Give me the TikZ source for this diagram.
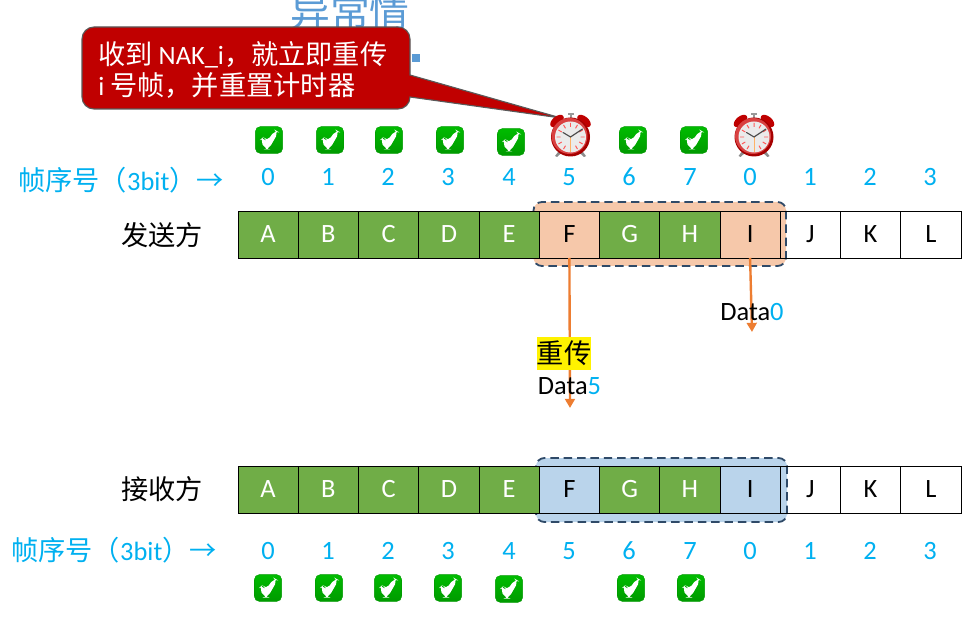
\documentclass[tikz,border=0pt]{standalone}
\usepackage{fontspec}
\usepackage{xcolor}
\usetikzlibrary{arrows.meta}
\setmainfont{Carlito}
\newfontfamily\cjk[Scale=1.03]{Noto Sans CJK SC}
\definecolor{cellgreen}{HTML}{70AD47}
\definecolor{cellpeach}{HTML}{F6C8AA}
\definecolor{cellblue}{HTML}{BAD4EB}
\definecolor{numblue}{HTML}{00B0F0}
\definecolor{winline}{HTML}{2F4A68}
\definecolor{arroworange}{HTML}{ED7D31}
\definecolor{calloutred}{HTML}{C00000}
\definecolor{titleblue}{HTML}{5B9BD5}
\definecolor{okgreen}{HTML}{00B000}
\definecolor{okdark}{HTML}{009A00}

\begin{document}
\begin{tikzpicture}[x=0.25mm, y=-0.25mm,
  every node/.style={font=\fontsize{18.8}{23}\selectfont},
  cell/.style={draw, line width=0.6pt, minimum width=15.06mm, minimum height=11.75mm, inner sep=0pt, outer sep=0pt},
  good/.style={cell, fill=cellgreen, text=white},
  sendwait/.style={cell, fill=cellpeach},
  recvwait/.style={cell, fill=cellblue},
  seqnum/.style={text=numblue, inner sep=0pt},
  seqlabel/.style={text=numblue, anchor=west, inner sep=0pt},
  party/.style={anchor=center, inner sep=0pt},
  window/.style={draw=winline, line width=1.3pt, dash pattern=on 6pt off 3.5pt, rounded corners=6pt},
  sendarrow/.style={draw=arroworange, line width=1.7pt, -{Triangle[length=6.5pt,width=7pt]}},
  okbox/.style={draw=okdark, line width=0.3pt, top color=okgreen!85!green, bottom color=okdark, rounded corners=3.5pt, minimum width=6.8mm, minimum height=6.7mm, inner sep=0pt,
    path picture={\fill[white, shift={(path picture bounding box.center)}] (-9,0)--(-5.5,-3)--(-2,1.5)--(6,-10)--(9.5,-8)--(-0.5,9.5)--(-3.5,9.5)--cycle;}},
  alarmclock/.pic={
    \fill[black!45] (-11,13)--(-15.5,19)--(-13.5,20)--(-8,15)--cycle (11,13)--(15.5,19)--(13.5,20)--(8,15)--cycle;
    \fill[black!40] (-3,-24)rectangle(3,-21.5); \fill[black!40] (-1,-22)rectangle(1,-17);
    \fill[red!75!black, rotate around={40:(-13.5,-16)}] (-13.5,-16) ellipse [x radius=8, y radius=4.5];
    \fill[red!75!black, rotate around={-40:(13.5,-16)}] (13.5,-16) ellipse [x radius=8, y radius=4.5];
    \fill[red!65!black] (0,0) circle (19.5);
    \fill[red!70!white!85!black] (-1,-1) circle (18);
    \fill[black!8] (0,0) circle (15.5);
    \draw[red!65!white, line width=0.7pt] (0,-14)--(0,-10) (7,-12.1)--(5,-8.7) (12.1,-7)--(8.7,-5) (14,0)--(10,0) (12.1,7)--(8.7,5) (7,12.1)--(5,8.7) (-7,12.1)--(-5,8.7) (-12.1,7)--(-8.7,5) (-14,0)--(-10,0) (-12.1,-7)--(-8.7,-5) (-7,-12.1)--(-5,-8.7);
    \draw[orange!60!white, line width=0.4pt] (0,0)--(0,15);
    \draw[black!70, line width=0.8pt, line cap=round] (-7.5,-4.5)--(0,0)--(12,-8);
  }]
\clip (0,0) rectangle (976,618);

% title behind the callout
\node[text=titleblue, font=\fontsize{27.5}{30}\cjk, inner sep=0pt] (title) at (350,11) {异常情};
\node[fill=titleblue, minimum width=2mm, minimum height=2mm, inner sep=0pt] (titlerest) at (416,58) {};

% callout
\coordinate (alarmtip) at (561,118);
\draw[fill=calloutred, draw=black!65, line width=0.8pt, rounded corners=8.5pt] (82,27) -- (410,27) [sharp corners] -- (410,75) -- (alarmtip) -- (410,97) [rounded corners=8.5pt] -- (410,109) -- (82,109) -- cycle;
\node[text=white, anchor=west, align=left, inner sep=0pt] (calltext) at (98,70) {{\cjk 收到} NAK\_i{\cjk ，就立即重传}\\[-1.5pt]i {\cjk 号帧，并重置计时器}};

% sender side, top row
\node[okbox] (sok0) at (269,140) {}; \node[okbox] (sok1) at (330,140) {}; \node[okbox] (sok2) at (389,140) {}; \node[okbox] (sok3) at (450,140) {}; \node[okbox] (sok4) at (511,142) {};
\pic (sclock5) at (570.5,137) {alarmclock};
\node[okbox] (sok6) at (633,140) {}; \node[okbox] (sok7) at (694,140) {};
\pic (sclock0) at (754,137) {alarmclock};

\node[seqlabel] (slabel) at (18,180) {{\cjk 帧序号（}3bit{\cjk ）→}};
\node[seqnum] (sn0) at (268,177) {0}; \node[seqnum] (sn1) at (328,177) {1}; \node[seqnum] (sn2) at (388,177) {2}; \node[seqnum] (sn3) at (448,177) {3};
\node[seqnum] (sn4) at (509,177) {4}; \node[seqnum] (sn5) at (569,177) {5}; \node[seqnum] (sn6) at (629,177) {6}; \node[seqnum] (sn7) at (690,177) {7};
\node[seqnum] (sn8) at (750,177) {0}; \node[seqnum] (sn9) at (810,177) {1}; \node[seqnum] (sn10) at (870,177) {2}; \node[seqnum] (sn11) at (930,177) {3};

\node[party, font=\fontsize{18.8}{23}\cjk] (sender) at (162,235) {发送方};
\draw[window, fill=cellpeach] (533.5,202) rectangle (786,266);
\node[good] (sa) at (268.1,234.5) {A}; \node[good] (sb) at (328.4,234.5) {B}; \node[good] (sc) at (388.6,234.5) {C}; \node[good] (sd) at (448.9,234.5) {D}; \node[good] (se) at (509.1,234.5) {E};
\node[sendwait] (sf) at (569.4,234.5) {F}; \node[good] (sg) at (629.6,234.5) {G}; \node[good] (sh) at (689.9,234.5) {H}; \node[sendwait] (si) at (750.1,234.5) {I};
\node[cell] (sj) at (810.4,234.5) {J}; \node[cell] (sk) at (870.6,234.5) {K}; \node[cell] (sl) at (930.9,234.5) {L};

% frames on the way
\coordinate (f5end) at (570,408);
\coordinate (f0end) at (752,332);
\draw[sendarrow] (sf.south) -- (f5end);
\draw[sendarrow] (si.south) -- (f0end);
\node[fill=yellow, minimum width=13.5mm, minimum height=8.25mm, inner sep=0pt, font=\fontsize{18.8}{23}\cjk] (resend) at (564,353.5) {重传};
\node[inner sep=0pt] (data5) at (569.5,386) {Data\textcolor{numblue}{5}};
\node[inner sep=0pt] (data0) at (752,312) {Data\textcolor{numblue}{0}};

% receiver side, bottom row
\node[party, font=\fontsize{18.8}{23}\cjk] (receiver) at (162,489) {接收方};
\draw[window, fill=cellblue] (536,458) rectangle (787,522);
\node[good] (ra) at (268.1,489.5) {A}; \node[good] (rb) at (328.4,489.5) {B}; \node[good] (rc) at (388.6,489.5) {C}; \node[good] (rd) at (448.9,489.5) {D}; \node[good] (re) at (509.1,489.5) {E};
\node[recvwait] (rf) at (569.4,489.5) {F}; \node[good] (rg) at (629.6,489.5) {G}; \node[good] (rh) at (689.9,489.5) {H}; \node[recvwait] (ri) at (750.1,489.5) {I};
\node[cell] (rj) at (810.4,489.5) {J}; \node[cell] (rk) at (870.6,489.5) {K}; \node[cell] (rl) at (930.9,489.5) {L};

\node[seqlabel] (rlabel) at (11,550) {{\cjk 帧序号（}3bit{\cjk ）→}};
\node[seqnum] (rn0) at (268,551) {0}; \node[seqnum] (rn1) at (328,551) {1}; \node[seqnum] (rn2) at (388,551) {2}; \node[seqnum] (rn3) at (448,551) {3};
\node[seqnum] (rn4) at (509,551) {4}; \node[seqnum] (rn5) at (569,551) {5}; \node[seqnum] (rn6) at (629,551) {6}; \node[seqnum] (rn7) at (690,551) {7};
\node[seqnum] (rn8) at (750,551) {0}; \node[seqnum] (rn9) at (810,551) {1}; \node[seqnum] (rn10) at (870,551) {2}; \node[seqnum] (rn11) at (930,551) {3};

\node[okbox] (rok0) at (268,588) {}; \node[okbox] (rok1) at (329,588) {}; \node[okbox] (rok2) at (388,588) {}; \node[okbox] (rok3) at (448,588) {}; \node[okbox] (rok4) at (509,589) {};
\node[okbox] (rok6) at (631,588) {}; \node[okbox] (rok7) at (691,588) {};
\end{tikzpicture}
\end{document}
